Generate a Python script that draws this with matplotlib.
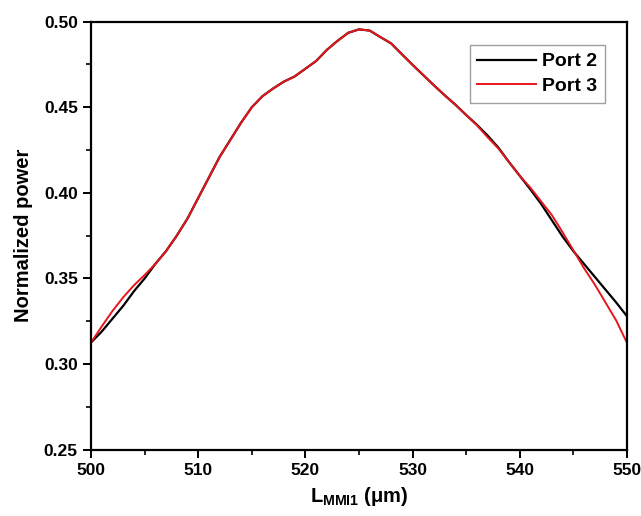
import matplotlib
matplotlib.use("Agg")
import matplotlib.pyplot as plt
from matplotlib.ticker import MultipleLocator

plt.rcParams["font.family"] = ["Liberation Sans", "DejaVu Sans"]
plt.rcParams["font.weight"] = "bold"
plt.rcParams["mathtext.fontset"] = "custom"
plt.rcParams["mathtext.rm"] = "Liberation Sans:bold"
plt.rcParams["mathtext.bf"] = "Liberation Sans:bold"
plt.rcParams["mathtext.it"] = "Liberation Sans:bold"

# MMI length sweep (µm)
length_um = list(range(500, 551))

port2 = [0.3126, 0.3190, 0.3265, 0.3340, 0.3425, 0.3500, 0.3585, 0.3660, 0.3750, 0.3850,
         0.3970, 0.4090, 0.4210, 0.4310, 0.4410, 0.4500, 0.4565, 0.4610, 0.4650, 0.4680,
         0.4725, 0.4770, 0.4835, 0.4888, 0.4935, 0.4955, 0.4948, 0.4910, 0.4873, 0.4810,
         0.4748, 0.4688, 0.4628, 0.4570, 0.4515, 0.4455, 0.4398, 0.4335, 0.4265, 0.4180,
         0.4100, 0.4020, 0.3935, 0.3840, 0.3745, 0.3660, 0.3585, 0.3510, 0.3435, 0.3360,
         0.3280]

port3 = [0.3126, 0.3220, 0.3310, 0.3390, 0.3460, 0.3520, 0.3585, 0.3660, 0.3750, 0.3850,
         0.3970, 0.4090, 0.4210, 0.4310, 0.4410, 0.4500, 0.4565, 0.4610, 0.4650, 0.4680,
         0.4725, 0.4770, 0.4835, 0.4888, 0.4935, 0.4955, 0.4948, 0.4910, 0.4873, 0.4810,
         0.4748, 0.4688, 0.4628, 0.4570, 0.4515, 0.4455, 0.4395, 0.4325, 0.4260, 0.4180,
         0.4100, 0.4030, 0.3950, 0.3870, 0.3770, 0.3665, 0.3560, 0.3465, 0.3360, 0.3255,
         0.3125]

fig = plt.figure(figsize=(6.41, 5.16), dpi=100)
ax = fig.add_axes([0.142, 0.1285, 0.836, 0.8295])

ax.plot(length_um, port2, color="black", lw=1.6, label="Port 2", solid_joinstyle="round")
ax.plot(length_um, port3, color="#e8151b", lw=1.4, label="Port 3", solid_joinstyle="round")

ax.set_xlim(500, 550)
ax.set_ylim(0.25, 0.50)
ax.xaxis.set_major_locator(MultipleLocator(10))
ax.xaxis.set_minor_locator(MultipleLocator(5))
ax.yaxis.set_major_locator(MultipleLocator(0.05))
ax.yaxis.set_minor_locator(MultipleLocator(0.025))
ax.yaxis.set_major_formatter(plt.FormatStrFormatter("%.2f"))

for s in ax.spines.values():
    s.set_linewidth(1.6)
ax.tick_params(which="major", direction="out", length=6, width=1.4, labelsize=12.5,
               top=False, right=False)
ax.tick_params(which="minor", direction="out", length=3.5, width=1.2,
               top=False, right=False)
for lab in ax.get_xticklabels() + ax.get_yticklabels():
    lab.set_fontweight("bold")

ax.set_xlabel(r"$\mathregular{L_{MMI1}}$ (μm)", fontsize=14.5, fontweight="bold", labelpad=5)
ax.set_ylabel("Normalized power", fontsize=14.5, fontweight="bold", labelpad=8)

leg = ax.legend(loc="upper right", bbox_to_anchor=(0.978, 0.968), fontsize=14,
                frameon=True, fancybox=False, handlelength=3.0, handletextpad=0.35,
                borderpad=0.4, labelspacing=0.35, edgecolor="#888888")
leg.get_frame().set_linewidth(1.0)
for t in leg.get_texts():
    t.set_fontweight("bold")

fig.savefig("out.png", dpi=100)
